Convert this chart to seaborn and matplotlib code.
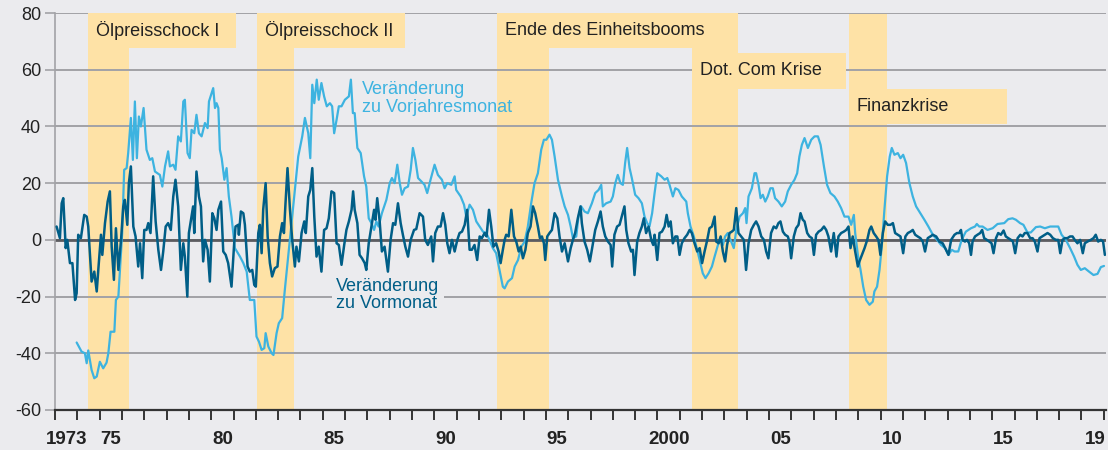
import numpy as np
import pandas as pd
import matplotlib
matplotlib.use("Agg")
import matplotlib.pyplot as plt
import seaborn as sns
from matplotlib.patches import Rectangle

# DATA: Veränderung zu Vorjahresmonat (year, %)
yoy_t = [1973.97, 1974.19, 1974.34, 1974.42, 1974.49, 1974.64, 1974.76, 1974.87, 1975.01, 1975.16,
         1975.31, 1975.39, 1975.49, 1975.66, 1975.73, 1975.84, 1975.91, 1976.01, 1976.10, 1976.21,
         1976.28, 1976.40, 1976.49, 1976.58, 1976.67, 1976.76, 1976.85, 1976.97, 1977.10, 1977.25,
         1977.36, 1977.48, 1977.70, 1977.81, 1977.93, 1978.07, 1978.15, 1978.30, 1978.40, 1978.52,
         1978.64, 1978.75, 1978.82, 1978.94, 1979.04, 1979.12, 1979.24, 1979.34, 1979.45, 1979.57,
         1979.72, 1979.84, 1979.90, 1980.09, 1980.17, 1980.24, 1980.32, 1980.39, 1980.47, 1980.59,
         1980.69, 1980.79, 1980.91, 1981.06, 1981.29, 1981.44, 1981.59, 1981.73, 1981.93, 1982.03,
         1982.14, 1982.26, 1982.38, 1982.44, 1982.56, 1982.71, 1982.79, 1982.93, 1983.03, 1983.18,
         1983.30, 1983.45, 1983.60, 1983.75, 1983.90, 1984.08, 1984.20, 1984.35, 1984.44, 1984.53,
         1984.62, 1984.73, 1984.82, 1984.94, 1985.06, 1985.18, 1985.32, 1985.42, 1985.51, 1985.62,
         1985.72, 1985.84, 1985.99, 1986.17, 1986.26, 1986.35, 1986.43, 1986.55, 1986.70, 1986.85,
         1986.95, 1987.06, 1987.18, 1987.30, 1987.40, 1987.50, 1987.65, 1987.85, 1988.00, 1988.10,
         1988.22, 1988.34, 1988.45, 1988.55, 1988.67, 1988.82, 1988.94, 1989.04, 1989.15, 1989.27,
         1989.42, 1989.56, 1989.68, 1989.83, 1990.01, 1990.16, 1990.34, 1990.46, 1990.58, 1990.76,
         1990.91, 1990.98, 1991.18, 1991.33, 1991.43, 1991.58, 1991.73, 1991.88, 1992.03, 1992.18,
         1992.33, 1992.47, 1992.62, 1992.77, 1992.92, 1993.07, 1993.15, 1993.30, 1993.48, 1993.60,
         1993.75, 1993.90, 1994.05, 1994.19, 1994.34, 1994.49, 1994.64, 1994.79, 1994.91, 1995.02,
         1995.16, 1995.27, 1995.39, 1995.54, 1995.72, 1995.84, 1995.99, 1996.11, 1996.21, 1996.36,
         1996.46, 1996.58, 1996.73, 1996.88, 1997.06, 1997.21, 1997.36, 1997.48, 1997.55, 1997.70,
         1997.90, 1998.00, 1998.11, 1998.22, 1998.34, 1998.45, 1998.55, 1998.64, 1998.75, 1998.85,
         1999.00, 1999.15, 1999.30, 1999.42, 1999.54, 1999.64, 1999.76, 1999.87, 1999.99, 2000.17,
         2000.32, 2000.44, 2000.54, 2000.69, 2000.80, 2000.94, 2001.09, 2001.29, 2001.36, 2001.48,
         2001.63, 2001.78, 2001.89, 2002.03, 2002.15, 2002.29, 2002.44, 2002.56, 2002.71, 2002.83,
         2002.93, 2003.03, 2003.15, 2003.27, 2003.42, 2003.53, 2003.68, 2003.83, 2003.93, 2003.99,
         2004.08, 2004.23, 2004.35, 2004.42, 2004.53, 2004.62, 2004.72, 2004.83, 2004.94, 2005.06,
         2005.17, 2005.27, 2005.42, 2005.57, 2005.72, 2005.84, 2005.99, 2006.14, 2006.26, 2006.36,
         2006.47, 2006.59, 2006.74, 2006.89, 2007.04, 2007.19, 2007.31, 2007.46, 2007.60, 2007.75,
         2007.93, 2008.08, 2008.23, 2008.38, 2008.56, 2008.68, 2008.80, 2008.86, 2008.98, 2009.10,
         2009.22, 2009.35, 2009.50, 2009.65, 2009.72, 2009.84, 2009.95, 2010.05, 2010.17, 2010.29,
         2010.41, 2010.50, 2010.62, 2010.77, 2010.89, 2011.01, 2011.14, 2011.29, 2011.44, 2011.59,
         2011.78, 2011.96, 2012.14, 2012.34, 2012.53, 2012.71, 2012.89, 2013.04, 2013.19, 2013.31,
         2013.48, 2013.63, 2013.82, 2014.05, 2014.23, 2014.31, 2014.42, 2014.57, 2014.79, 2015.02,
         2015.24, 2015.54, 2015.72, 2015.91, 2016.06, 2016.25, 2016.40, 2016.58, 2016.73, 2016.96,
         2017.15, 2017.36, 2017.60, 2017.78, 2017.96, 2018.11, 2018.30, 2018.49, 2018.67, 2018.82,
         2018.97, 2019.15, 2019.34, 2019.54, 2019.72, 2019.87, 2020.01]
yoy_v = [-36.2, -39.4, -40.0, -43.5, -39.0, -45.9, -48.8, -48.2, -43.0, -45.3,
         -43.3, -40.0, -32.4, -32.4, -21.2, -20.0, -10.6, 2.4, 24.7, 25.3,
         30.6, 43.0, 28.2, 48.8, 28.8, 43.5, 40.0, 46.5, 31.8, 28.2,
         28.8, 24.1, 22.9, 18.8, 25.9, 31.2, 25.9, 26.5, 24.7, 36.5,
         34.7, 48.8, 49.4, 30.6, 28.8, 38.8, 37.6, 44.1, 37.6, 36.5,
         41.2, 39.4, 48.8, 53.5, 46.5, 48.2, 46.5, 31.8, 28.8, 21.2,
         25.3, 15.3, 8.2, -2.9, -5.9, -8.2, -11.2, -21.2, -21.2, -34.1,
         -35.9, -38.8, -38.2, -32.9, -37.6, -40.0, -40.6, -32.9, -29.4, -27.6,
         -17.6, -5.9, 5.9, 17.6, 29.4, 36.5, 43.0, 37.6, 28.8, 54.7,
         48.2, 56.5, 49.4, 55.3, 50.6, 47.1, 48.2, 47.1, 37.6, 42.4,
         47.1, 47.1, 49.4, 50.6, 56.5, 44.7, 44.7, 32.4, 30.6, 22.4,
         18.8, 7.6, 5.9, 3.5, 6.5, 4.7, 9.4, 14.1, 20.0, 21.8,
         20.0, 26.5, 20.0, 15.9, 18.2, 18.8, 24.7, 32.4, 28.2, 21.8,
         20.6, 19.4, 16.5, 21.2, 26.5, 22.9, 21.2, 18.2, 20.0, 19.4,
         22.4, 17.6, 15.3, 12.4, 8.2, 12.4, 10.6, 6.5, 4.7, 2.9,
         2.4, 0.0, -2.9, -4.7, -10.6, -16.5, -17.1, -14.7, -13.5, -9.4,
         -7.1, -2.4, -0.6, 4.7, 12.9, 20.0, 23.5, 31.8, 35.3, 35.3,
         37.1, 35.3, 29.4, 21.2, 15.3, 11.8, 8.8, 4.7, 0.6, 1.2,
         8.2, 11.8, 10.0, 9.4, 12.9, 16.5, 17.6, 19.4, 11.8, 12.9,
         13.5, 15.3, 20.0, 22.9, 20.0, 19.4, 27.1, 32.4, 25.3, 21.8,
         15.9, 14.7, 12.9, 8.2, 5.9, 4.7, 9.4, 16.5, 23.5, 22.4,
         21.2, 21.8, 19.4, 15.3, 18.2, 17.6, 15.3, 13.5, 9.4, 4.7,
         1.2, -3.5, -7.1, -11.8, -13.5, -11.8, -9.4, -5.9, -1.8, 0.6,
         -1.8, 1.2, 2.4, 0.0, -2.9, 3.5, 8.2, 9.4, 11.2, 5.9,
         15.3, 18.2, 23.5, 23.5, 19.4, 14.7, 15.9, 13.5, 15.3, 18.2,
         18.2, 14.7, 13.5, 11.8, 13.5, 17.1, 19.4, 21.2, 23.5, 29.4,
         33.5, 35.9, 32.4, 35.3, 36.5, 36.5, 33.5, 25.9, 19.4, 16.5,
         15.3, 13.5, 11.2, 8.2, 8.2, 5.3, 8.8, 2.4, -5.3, -10.6,
         -16.5, -21.2, -22.9, -21.8, -18.2, -16.5, -10.6, -2.4, 10.6, 22.4,
         29.4, 32.4, 30.0, 30.6, 28.8, 30.0, 27.1, 20.0, 15.3, 11.8,
         9.4, 7.1, 4.7, 1.8, 0.0, -1.8, -2.9, -5.3, -3.5, -4.1,
         -4.1, 0.0, 2.9, 4.1, 4.7, 5.6, 4.7, 4.7, 3.5, 4.1,
         5.6, 5.9, 7.3, 7.6, 7.1, 5.9, 5.3, 2.6, 2.6, 4.5,
         4.7, 4.1, 4.7, 4.7, 4.7, 1.8, 0.0, -2.9, -5.9, -8.8,
         -10.6, -10.0, -11.2, -12.4, -12.0, -9.6, -9.2]

# DATA: Veränderung zu Vormonat (year, %)
mom_t = [1973.07, 1973.22, 1973.30, 1973.37, 1973.48, 1973.55, 1973.67, 1973.78, 1973.90, 1973.97,
         1974.04, 1974.16, 1974.31, 1974.42, 1974.49, 1974.64, 1974.76, 1974.87, 1974.94, 1975.06,
         1975.12, 1975.24, 1975.36, 1975.46, 1975.54, 1975.64, 1975.73, 1975.84, 1975.96, 1976.06,
         1976.13, 1976.24, 1976.31, 1976.40, 1976.51, 1976.61, 1976.73, 1976.81, 1976.91, 1977.00,
         1977.10, 1977.18, 1977.28, 1977.40, 1977.51, 1977.63, 1977.75, 1977.85, 1977.96, 1978.07,
         1978.19, 1978.30, 1978.40, 1978.52, 1978.64, 1978.75, 1978.82, 1978.93, 1979.00, 1979.12,
         1979.19, 1979.24, 1979.34, 1979.45, 1979.54, 1979.64, 1979.72, 1979.84, 1979.94, 1980.05,
         1980.14, 1980.24, 1980.32, 1980.44, 1980.54, 1980.65, 1980.76, 1980.91, 1981.03, 1981.09,
         1981.21, 1981.24, 1981.33, 1981.44, 1981.51, 1981.63, 1981.73, 1981.84, 1981.93, 1982.00,
         1982.11, 1982.18, 1982.26, 1982.33, 1982.44, 1982.53, 1982.63, 1982.73, 1982.85, 1982.97,
         1983.08, 1983.18, 1983.26, 1983.33, 1983.42, 1983.53, 1983.63, 1983.75, 1983.82, 1983.93,
         1984.05, 1984.17, 1984.24, 1984.35, 1984.44, 1984.53, 1984.62, 1984.72, 1984.82, 1984.94,
         1985.06, 1985.17, 1985.27, 1985.39, 1985.51, 1985.62, 1985.72, 1985.84, 1985.96, 1986.06,
         1986.17, 1986.29, 1986.36, 1986.43, 1986.55, 1986.65, 1986.76, 1986.88, 1986.95, 1987.06,
         1987.18, 1987.30, 1987.36, 1987.44, 1987.55, 1987.65, 1987.77, 1987.92, 1988.04, 1988.15,
         1988.25, 1988.37, 1988.49, 1988.59, 1988.70, 1988.82, 1988.94, 1989.09, 1989.19, 1989.34,
         1989.49, 1989.59, 1989.71, 1989.86, 1989.94, 1990.04, 1990.16, 1990.28, 1990.39, 1990.49,
         1990.58, 1990.68, 1990.79, 1990.91, 1991.03, 1991.13, 1991.24, 1991.36, 1991.47, 1991.58,
         1991.68, 1991.80, 1991.92, 1992.03, 1992.13, 1992.25, 1992.34, 1992.45, 1992.55, 1992.65,
         1992.77, 1992.88, 1992.97, 1993.07, 1993.15, 1993.22, 1993.33, 1993.45, 1993.57, 1993.67,
         1993.78, 1993.87, 1993.97, 1994.08, 1994.19, 1994.31, 1994.42, 1994.52, 1994.64, 1994.73,
         1994.82, 1994.91, 1994.97, 1995.06, 1995.16, 1995.27, 1995.39, 1995.51, 1995.61, 1995.72,
         1995.84, 1995.99, 1996.11, 1996.21, 1996.31, 1996.43, 1996.55, 1996.61, 1996.73, 1996.85,
         1996.97, 1997.11, 1997.21, 1997.33, 1997.45, 1997.55, 1997.66, 1997.78, 1997.90, 1997.97,
         1998.07, 1998.19, 1998.30, 1998.40, 1998.52, 1998.60, 1998.70, 1998.82, 1998.90, 1998.97,
         1999.09, 1999.19, 1999.30, 1999.39, 1999.49, 1999.60, 1999.72, 1999.81, 1999.87, 1999.99,
         2000.09, 2000.20, 2000.32, 2000.41, 2000.50, 2000.59, 2000.69, 2000.80, 2000.89, 2000.99,
         2001.09, 2001.21, 2001.33, 2001.44, 2001.54, 2001.66, 2001.78, 2001.89, 2002.00, 2002.11,
         2002.23, 2002.33, 2002.44, 2002.56, 2002.63, 2002.74, 2002.83, 2002.93, 2003.03, 2003.12,
         2003.23, 2003.33, 2003.42, 2003.53, 2003.63, 2003.75, 2003.87, 2003.97, 2004.08, 2004.20,
         2004.32, 2004.42, 2004.53, 2004.65, 2004.77, 2004.87, 2004.97, 2005.09, 2005.21, 2005.32,
         2005.42, 2005.51, 2005.62, 2005.72, 2005.84, 2005.91, 2005.99, 2006.11, 2006.21, 2006.32,
         2006.41, 2006.51, 2006.59, 2006.71, 2006.81, 2006.92, 2007.01, 2007.11, 2007.22, 2007.34,
         2007.46, 2007.56, 2007.66, 2007.78, 2007.90, 2008.02, 2008.11, 2008.23, 2008.35, 2008.46,
         2008.56, 2008.65, 2008.75, 2008.86, 2008.98, 2009.05, 2009.16, 2009.28, 2009.40, 2009.50,
         2009.58, 2009.69, 2009.80, 2009.90, 2009.99, 2010.10, 2010.20, 2010.32, 2010.44, 2010.55,
         2010.65, 2010.77, 2010.89, 2011.01, 2011.11, 2011.22, 2011.34, 2011.44, 2011.55, 2011.66,
         2011.78, 2011.89, 2011.99, 2012.11, 2012.23, 2012.34, 2012.49, 2012.63, 2012.78, 2012.93,
         2013.04, 2013.16, 2013.31, 2013.42, 2013.52, 2013.60, 2013.67, 2013.78, 2013.87, 2013.97,
         2014.05, 2014.12, 2014.23, 2014.34, 2014.46, 2014.55, 2014.64, 2014.76, 2014.87, 2014.97,
         2015.06, 2015.17, 2015.27, 2015.39, 2015.51, 2015.61, 2015.72, 2015.84, 2015.93, 2016.03,
         2016.14, 2016.26, 2016.36, 2016.46, 2016.58, 2016.70, 2016.81, 2016.91, 2017.03, 2017.12,
         2017.24, 2017.36, 2017.48, 2017.60, 2017.72, 2017.85, 2017.96, 2018.05, 2018.15, 2018.25,
         2018.37, 2018.49, 2018.60, 2018.70, 2018.82, 2018.94, 2019.06, 2019.15, 2019.27, 2019.42,
         2019.54, 2019.64, 2019.75, 2019.87, 2019.97, 2020.05]
mom_v = [4.7, 0.6, 12.9, 14.7, -2.9, 0.0, -8.2, -8.2, -21.2, -18.8,
         1.8, 0.6, 8.8, 8.2, 4.7, -14.7, -11.2, -18.2, -10.6, 1.8,
         -5.3, 5.9, 13.5, 17.1, -2.4, -14.1, 4.1, -10.6, 0.0, 11.8,
         14.1, 5.3, 20.0, 25.9, 4.7, 1.2, -9.4, -1.2, -13.5, 3.5,
         3.5, 5.9, 2.4, 22.4, 6.5, -3.5, -10.6, -4.1, 4.7, 5.9,
         3.5, 15.3, 21.2, 11.8, -10.6, -1.2, -5.9, -20.0, 2.4, 8.2,
         11.8, 2.4, 24.1, 15.3, 11.8, -7.6, 0.0, -3.5, -14.7, 9.4,
         7.6, 3.5, 10.6, 13.5, -4.1, -5.3, -8.2, -16.5, -1.2, 4.7,
         5.3, 1.8, 10.0, 9.4, 5.3, -9.4, -11.2, -10.6, -15.9, -16.5,
         2.4, 5.3, -4.7, 10.6, 20.0, 1.2, -8.2, -12.9, -10.0, -9.4,
         1.2, 5.9, 2.4, 12.9, 25.3, 10.6, 0.0, -9.4, -2.4, -7.6,
         2.4, 6.5, 2.4, 15.3, 17.6, 25.3, 8.2, -5.9, -2.4, -11.2,
         3.5, 4.1, 7.6, 17.1, 16.5, -1.2, -1.8, -8.8, -1.8, 3.5,
         6.5, 10.6, 17.1, 10.6, 5.9, -5.3, -6.5, -8.2, -10.6, -1.2,
         4.7, 10.6, 7.1, 14.7, 6.5, -4.1, -2.4, -11.2, 0.0, 5.9,
         5.3, 12.9, 5.9, 1.8, -2.4, -5.9, 0.0, 3.5, 3.8, 9.4,
         8.2, 0.0, -1.8, 1.2, -7.6, 2.4, 4.7, 4.7, 9.4, 5.3,
         -1.2, -4.7, 0.0, -4.1, 0.0, 2.4, 2.9, 5.3, 10.6, -3.5,
         -3.5, -1.8, -7.1, 1.2, 0.6, 2.4, 1.2, 10.6, 4.7, -2.4,
         -1.2, -4.1, -8.2, -3.5, 0.0, 1.8, 1.2, 10.6, 1.2, -0.6,
         -4.1, -2.4, -6.5, -3.5, 2.4, 4.7, 11.8, 9.4, 4.7, 0.6,
         1.2, -1.2, -7.1, 1.2, 2.4, 3.5, 9.4, 7.6, 1.2, -4.1,
         -1.2, -7.6, -2.9, 0.0, 2.4, 7.6, 11.8, 5.9, -0.6, -3.5,
         -7.6, -1.2, 3.5, 6.5, 10.0, 4.7, 1.2, -0.6, -1.8, -9.4,
         1.8, 4.7, 5.3, 8.2, 11.8, 3.5, -1.2, -4.1, -3.5, -12.4,
         -0.6, 2.4, 4.7, 7.6, 2.4, 4.7, 0.0, -1.8, 1.8, -7.1,
         2.4, 2.9, 4.7, 8.8, 4.7, 6.5, -1.2, 1.2, 1.2, -5.3,
         -1.2, 0.6, 1.8, 3.5, 2.4, -1.2, -4.1, -2.9, -8.2, -4.1,
         0.0, 4.1, 4.7, 8.2, -0.6, -1.2, 1.2, -4.1, -7.6, -1.8,
         2.4, 2.9, 3.5, 11.2, 2.4, 1.2, 0.0, -10.6, -1.2, 3.5,
         5.3, 6.5, 4.7, 1.2, 0.0, -4.1, -6.5, 2.4, 4.7, 4.1,
         5.9, 6.5, 2.9, 1.8, 1.2, -0.6, -6.5, 1.2, 4.1, 5.3,
         9.4, 7.1, 6.5, 2.4, 1.2, 0.6, -5.3, 1.8, 2.9, 3.5,
         4.7, 3.5, 1.2, -4.1, 2.4, -5.9, 1.2, 2.4, 2.9, 3.5,
         4.7, -2.9, 1.2, -4.1, -9.4, -7.6, -5.3, -2.9, 0.0, 3.5,
         4.7, 2.4, 1.2, 0.0, -5.3, 2.4, 6.5, 5.3, 5.3, 5.9,
         2.4, 1.8, 1.2, -4.7, 1.2, 2.4, 2.9, 3.5, 1.8, 1.2,
         0.6, -0.6, -4.1, 0.6, 1.2, 1.8, 1.2, -0.6, -1.2, -3.5,
         -5.3, 0.0, 1.8, 2.4, 2.4, 3.5, 0.0, -0.6, 0.0, -1.2,
         -5.3, -0.6, 1.2, 1.8, 2.4, 3.5, 0.6, 0.0, -0.6, -1.2,
         -4.7, 0.6, 2.4, 1.8, 3.3, 1.2, 0.6, 0.0, -0.6, -4.7,
         0.6, 1.8, 1.2, 2.4, 2.4, 0.6, 0.6, -0.6, -4.1, 0.6,
         1.2, 1.8, 2.4, 1.8, 0.6, 0.0, 0.0, -4.7, 0.0, 0.6,
         0.6, 1.2, 1.2, 0.0, -1.2, 0.0, -4.7, -1.2, -0.6, 0.0,
         0.6, 1.8, -0.6, 0.0, -0.6, -5.3]

# crisis periods
crisis_names = ["Ölpreisschock I", "Ölpreisschock II", "Ende des Einheitsbooms",
                "Dot. Com Krise", "Finanzkrise"]
crisis_start = [1974.48, 1982.05, 1992.80, 2001.53, 2008.57]
crisis_end = [1976.31, 1983.70, 1995.12, 2003.59, 2010.27]
# label box layout (right edge in years, bottom/top in %)
box_right = [1981.1, 1988.67, 2003.59, 2008.47, 2015.68]
box_bottom = [67.7, 67.7, 67.7, 53.2, 40.9]
box_top = [80, 80, 80, 65.9, 53.2]

tick_years = list(range(1973, 2021))
label_pos = [1973.5, 1975.5, 1980.5, 1985.5, 1990.5, 1995.5, 2000.5, 2005.5, 2010.5, 2015.5, 2019.6]
label_txt = ["1973", "75", "80", "85", "90", "95", "2000", "05", "10", "15", "19"]

BG = "#ebebee"
BAND = "#fee2a6"
LIGHT = "#3db3e0"
DARK = "#005e87"
GRID = "#a2a2a6"
TXT = "#222222"

sns.set_style("white")
plt.rcParams["font.family"] = ["Liberation Sans", "DejaVu Sans"]

df_yoy = pd.DataFrame({"t": yoy_t, "v": yoy_v})
df_mom = pd.DataFrame({"t": mom_t, "v": mom_v})

fig = plt.figure(figsize=(11.08, 4.5), dpi=100, facecolor=BG)
ax = fig.add_axes([55 / 1108, 40 / 450, 1051 / 1108, 397 / 450])
ax.set_facecolor(BG)

# crisis bands
for s, e in zip(crisis_start, crisis_end):
    ax.axvspan(s, e, color=BAND, lw=0, zorder=0.5)

# grid
for yv in range(-40, 81, 20):
    ax.axhline(yv, color=GRID, lw=1.4, zorder=1)
ax.axhline(0, color="#5c5c60", lw=2.0, zorder=1.2)

# label boxes
for name, s, r, b, t in zip(crisis_names, crisis_start, box_right, box_bottom, box_top):
    ax.add_patch(Rectangle((s, b), r - s, t - b, facecolor=BAND, edgecolor="none", zorder=2))
    ax.text(s + 0.36, (b + t) / 2, name, fontsize=13, color=TXT, va="center", ha="left", zorder=2.5)

sns.lineplot(data=df_yoy, x="t", y="v", ax=ax, color=LIGHT, lw=1.6, estimator=None, sort=False, zorder=3)
sns.lineplot(data=df_mom, x="t", y="v", ax=ax, color=DARK, lw=1.8, estimator=None, sort=False, zorder=4)

ax.text(1986.75, 49.8, "Veränderung\nzu Vorjahresmonat", color=LIGHT, fontsize=13,
        ha="left", va="center", linespacing=1.05, zorder=5)
ax.text(1985.6, -19.4, "Veränderung\nzu Vormonat", color=DARK, fontsize=13,
        ha="left", va="center", linespacing=1.05, zorder=5,
        bbox=dict(facecolor=BG, edgecolor="none", pad=3))

ax.set_xlim(1973, 2020.1)
ax.set_ylim(-60, 80)
ax.set_xlabel("")
ax.set_ylabel("")

ax.set_yticks(range(-60, 81, 20))
ax.set_yticklabels([str(v) for v in range(-60, 81, 20)], fontsize=13, color=TXT)
ax.tick_params(axis="y", length=7, width=1.2, color=GRID, pad=3, left=True)

ax.set_xticks(tick_years)
ax.set_xticklabels([])
ax.tick_params(axis="x", which="major", length=7, width=1.4, color="#333333", direction="out", bottom=True)
ax.set_xticks(label_pos, minor=True)
ax.set_xticklabels(label_txt, minor=True, fontsize=13.5, fontweight="bold", color=TXT)
ax.tick_params(axis="x", which="minor", length=0, pad=15)

for side in ["top", "right"]:
    ax.spines[side].set_visible(False)
ax.spines["left"].set_color(GRID)
ax.spines["left"].set_linewidth(1.2)
ax.spines["bottom"].set_color("#333333")
ax.spines["bottom"].set_linewidth(1.6)

fig.savefig("out.png", dpi=100, facecolor=BG)
